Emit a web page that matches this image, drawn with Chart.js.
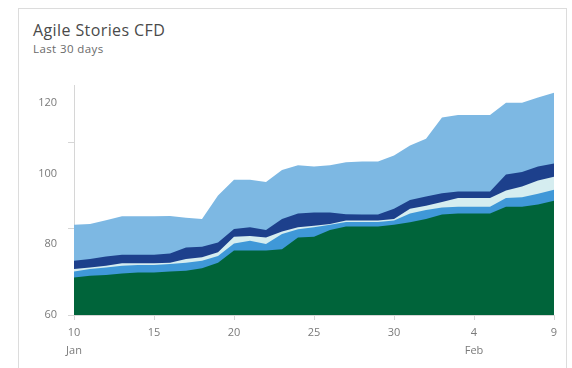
<!DOCTYPE html>
<html>
<head>
<meta charset="utf-8">
<script src="https://cdn.jsdelivr.net/npm/chart.js@4/dist/chart.umd.min.js"></script>
<style>
  body { margin: 0; background: #fff; width: 572px; height: 368px; overflow: hidden; position: relative; font-family: "Open Sans", "Noto Sans", sans-serif; }
  .card { position: absolute; left: 18px; top: 8px; width: 549px; height: 400px; border: 1px solid #dcdcdc; box-sizing: border-box; }
  .title { position: absolute; left: 33px; top: 21px; font-size: 16px; letter-spacing: 0.4px; line-height: 19px; color: #4a4a4a; }
  .subtitle { position: absolute; left: 33px; top: 42px; font-size: 11.5px; letter-spacing: 0.4px; line-height: 14px; color: #6a6a6a; }
  canvas { position: absolute; left: 0; top: 0; }
</style>
</head>
<body>
<div class="card"></div>
<div class="title">Agile Stories CFD</div>
<div class="subtitle">Last 30 days</div>
<canvas id="cfd" width="572" height="368"></canvas>
<script>
// days since Jan 10, tick labels every 5 days
const xTickDays = [0, 5, 10, 15, 20, 25, 30];
const xTickLabels = [["10", "Jan"], "15", "20", "25", "30", ["4", "Feb"], "9"];
const yTickValues = [60, 80, 100, 120];
const yMarkValues = [60, 84.4, 108.8];

// cumulative tops of each band, Jan 10 .. Feb 9
const closed =    [70.6,71.1,71.3,71.7,72.0,72.0,72.3,72.5,73.2,74.8,78.2,78.2,78.2,78.6,81.9,82.1,84.0,85.0,85.0,85.0,85.5,86.2,87.1,88.4,88.7,88.7,88.7,90.6,90.6,91.2,92.3];
const resolved =  [72.3,73.0,73.4,73.9,74.1,74.1,74.4,74.8,75.3,76.7,80.2,81.0,80.1,82.9,84.2,84.8,85.5,86.3,86.3,86.3,86.7,88.7,89.7,90.4,90.6,90.6,90.6,93.1,93.3,94.3,95.4];
const committed = [73.0,73.4,73.9,74.6,74.6,74.6,74.8,75.8,76.3,77.7,82.1,82.3,81.9,83.6,84.8,85.2,85.7,86.7,86.7,86.7,87.1,90.0,90.9,91.9,93.1,93.1,93.1,95.2,96.3,98.0,99.1];
const active =    [75.3,75.8,76.5,77.0,77.0,77.0,77.4,79.1,79.3,80.5,84.3,84.8,84.0,87.1,88.7,89.0,89.0,88.5,88.4,88.4,90.0,92.5,93.5,94.4,94.9,94.9,94.9,99.7,100.4,102.0,102.8];
const newItems =  [85.5,85.7,86.8,87.9,87.9,87.9,88.0,87.5,87.1,93.8,98.2,98.2,97.6,101.0,102.3,102.0,102.3,103.2,103.4,103.4,105.1,107.9,109.8,115.8,116.5,116.5,116.5,120.0,120.0,121.5,122.8];

const bands = [
  { label: "Closed", values: closed, color: "#00643a" },
  { label: "Resolved", values: resolved, color: "#3f98d8" },
  { label: "Committed", values: committed, color: "#d5edf0" },
  { label: "Active", values: active, color: "#1d408c" },
  { label: "New", values: newItems, color: "#7db8e3" }
];

const ctx = document.getElementById("cfd").getContext("2d");
const axisGray = "#d6d6d6";
const labelGray = "#7a7a7a";

new Chart(ctx, {
  type: "line",
  data: {
    datasets: bands.map(b => ({
      label: b.label,
      data: b.values.map((v, i) => ({ x: i, y: v })),
      backgroundColor: b.color,
      borderColor: b.color,
      borderWidth: 0,
      pointRadius: 0,
      tension: 0,
      fill: "start" // first dataset is drawn last, so bands overlap cleanly
    }))
  },
  options: {
    responsive: false,
    animation: false,
    layout: { padding: { top: 85, right: 18, bottom: 0, left: 0 } },
    plugins: { legend: { display: false }, tooltip: { enabled: false } },
    scales: {
      x: {
        type: "linear",
        min: 0,
        max: 30,
        afterBuildTicks: s => { s.ticks = xTickDays.map(v => ({ value: v })); },
        afterFit: s => { s.height = 53; },
        grid: { drawOnChartArea: false, color: axisGray, tickLength: 5 },
        border: { color: axisGray },
        ticks: {
          color: labelGray,
          font: { family: "'Open Sans', 'Noto Sans', sans-serif", size: 11, lineHeight: 1.6 },
          padding: 4,
          maxRotation: 0,
          callback: v => xTickLabels[xTickDays.indexOf(v)]
        }
      },
      yMarks: {
        position: "left",
        weight: 0,
        min: 60,
        max: 125,
        afterBuildTicks: s => { s.ticks = yMarkValues.map(v => ({ value: v })); },
        afterFit: s => { s.width = 6; },
        grid: { drawOnChartArea: false, color: axisGray, tickLength: 6 },
        border: { color: axisGray },
        ticks: { callback: () => "", padding: 0 }
      },
      y: {
        position: "left",
        weight: 1,
        min: 60,
        max: 125,
        afterBuildTicks: s => { s.ticks = yTickValues.map(v => ({ value: v })); },
        afterFit: s => { s.width = 68; },
        grid: { display: false, drawTicks: false },
        border: { display: false },
        ticks: {
          color: labelGray,
          padding: 11,
          font: { family: "'Open Sans', 'Noto Sans', sans-serif", size: 11 }
        }
      }
    }
  }
});
</script>
</body>
</html>
